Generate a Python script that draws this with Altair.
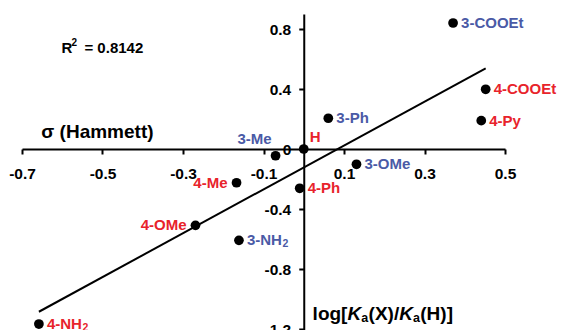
import altair as alt
import pandas as pd

# ---- data ----
names = ["3-COOEt", "4-COOEt", "4-Py", "3-Ph", "H", "3-OMe", "4-Ph",
         "3-Me", "4-Me", "4-OMe", "3-NH\u2082", "4-NH\u2082"]
sigma = [0.371, 0.452, 0.441, 0.061, 0.0, 0.131, -0.010,
         -0.070, -0.167, -0.269, -0.161, -0.658]
logk = [0.840, 0.398, 0.189, 0.205, 0.0, -0.102, -0.262,
        -0.045, -0.225, -0.509, -0.609, -1.167]
groups = ["meta" if n.startswith("3") else "para" for n in names]

fit_x = [-0.658, 0.452]
fit_y = [-1.085, 0.538]

x_ticks = [-0.7, -0.5, -0.3, -0.1, 0.1, 0.3, 0.5]
y_ticks = [0.8, 0.4, 0.0, -0.4, -0.8, -1.2]

# ---- layout ----
X_DOM = [-0.7, 0.5]
Y_DOM = [-1.25, 0.9]
W = 483
H = 322.5
y0_px = H * (Y_DOM[1] - 0) / (Y_DOM[1] - Y_DOM[0])
x0_px = W * (0 - X_DOM[0]) / (X_DOM[1] - X_DOM[0])

FONT = "Liberation Sans"
FS = 15.5
LFS = 15
BLUE = "#4a5aa6"
RED = "#e8232b"

df = pd.DataFrame({"name": names, "sigma": sigma, "logk": logk, "group": groups})
df_fit = pd.DataFrame({"sigma": fit_x, "logk": fit_y})

minus_fix = "replace(datum.label, '\u2212', '-')"

xs = alt.Scale(domain=X_DOM, nice=False, zero=False)
ys = alt.Scale(domain=Y_DOM, nice=False, zero=False)

x_axis = alt.Axis(values=x_ticks, orient="bottom", offset=-(H - y0_px), grid=False,
                  title=None, domainColor="black", domainWidth=2, tickColor="black",
                  tickWidth=2, tickSize=5, labelFont=FONT, labelFontSize=FS,
                  labelFontWeight="bold", labelColor="black", labelPadding=12,
                  labelOverlap=False, labelFlush=False, labelExpr=minus_fix)
y_axis = alt.Axis(values=y_ticks, orient="left", offset=-x0_px, grid=False,
                  title=None, domainColor="black", domainWidth=2, tickColor="black",
                  tickWidth=2, tickSize=5, labelFont=FONT, labelFontSize=FS,
                  labelFontWeight="bold", labelColor="black", labelPadding=8,
                  labelOverlap=False, labelFlush=False, format=".1~f",
                  labelExpr=minus_fix)

X = alt.X("sigma:Q", scale=xs, axis=x_axis)
Y = alt.Y("logk:Q", scale=ys, axis=y_axis)

color = alt.Color("group:N", scale=alt.Scale(domain=["meta", "para"], range=[BLUE, RED]),
                  legend=None)

line = alt.Chart(df_fit).mark_line(color="black", strokeWidth=2).encode(x=X, y=Y)
pts = alt.Chart(df).mark_circle(size=95, color="black", opacity=1).encode(x=X, y=Y)

left_set = ["4-Me", "4-OMe"]
special = ["3-Me", "H"]
RDX = 8

def labels(flt, **kw):
    return alt.Chart(df).transform_calculate(
        shown="replace(datum.name, '\u2082', '')"
    ).transform_filter(flt).mark_text(
        font=FONT, fontSize=LFS, fontWeight="bold", baseline="middle", **kw
    ).encode(x=X, y=Y, text="shown:N", color=color)

right_lbl = labels(~alt.FieldOneOfPredicate(field="name", oneOf=left_set + special),
                   align="left", dx=RDX)
left_lbl = labels(alt.FieldOneOfPredicate(field="name", oneOf=left_set),
                  align="right", dx=-9)
me_lbl = labels(alt.FieldEqualPredicate(field="name", equal="3-Me"),
                align="right", dx=-4, dy=-17)
h_lbl = labels(alt.FieldEqualPredicate(field="name", equal="H"),
               align="left", dx=6, dy=-12)
# subscript "2" of the NH2 labels
sub_lbl = alt.Chart(df).transform_filter("indexof(datum.name, '\u2082') >= 0").mark_text(
    font=FONT, fontSize=10.5, fontWeight="bold", baseline="middle", align="left",
    dx=RDX + 2.333 * LFS + 0.5, dy=4, text="2"
).encode(x=X, y=Y, color=color)

# annotation anchors (data coordinates)
ann = pd.DataFrame({"sigma": [-0.602, -0.652, 0.022], "logk": [0.673, 0.113, -1.10],
                    "key": ["r2", "sigma", "ytitle"]})

def piece(key, txt, dx=0, dy=0, fs=FS, st="normal"):
    return alt.Chart(ann).transform_filter(alt.FieldEqualPredicate(field="key", equal=key)).mark_text(
        font=FONT, fontSize=fs, fontWeight="bold", fontStyle=st, align="left",
        baseline="middle", color="black", dx=dx, dy=dy, text=txt
    ).encode(x=X, y=Y)

texts = [
    piece("r2", "R", 0, 0, 15),
    piece("r2", "2", 10, -5, 10),
    piece("r2", "= 0.8142", 23, 0, 15),
    piece("sigma", "\u03c3 (Hammett)", 0, 0, 19),
]
k = 19 / 18
for txt, dx, dy, fs, st in [("log[", 0, 0, 19, "normal"), ("K", 33, 0, 19, "italic"),
                            ("a", 46, 4, 12.5, "normal"), ("(X)/", 53, 0, 19, "normal"),
                            ("K", 82, 0, 19, "italic"), ("a", 95, 4, 12.5, "normal"),
                            ("(H)]", 102, 0, 19, "normal")]:
    texts.append(piece("ytitle", txt, dx * k, dy, fs, st))

chart = alt.layer(line, pts, right_lbl, left_lbl, me_lbl, h_lbl, sub_lbl, *texts).properties(
    width=W, height=H,
    autosize=alt.AutoSizeParams(type="none"),
    padding={"left": 14, "top": 6, "right": 52, "bottom": 0},
).configure_view(stroke=None)

chart.save("out.html", embed_options={"renderer": "svg", "actions": False})
